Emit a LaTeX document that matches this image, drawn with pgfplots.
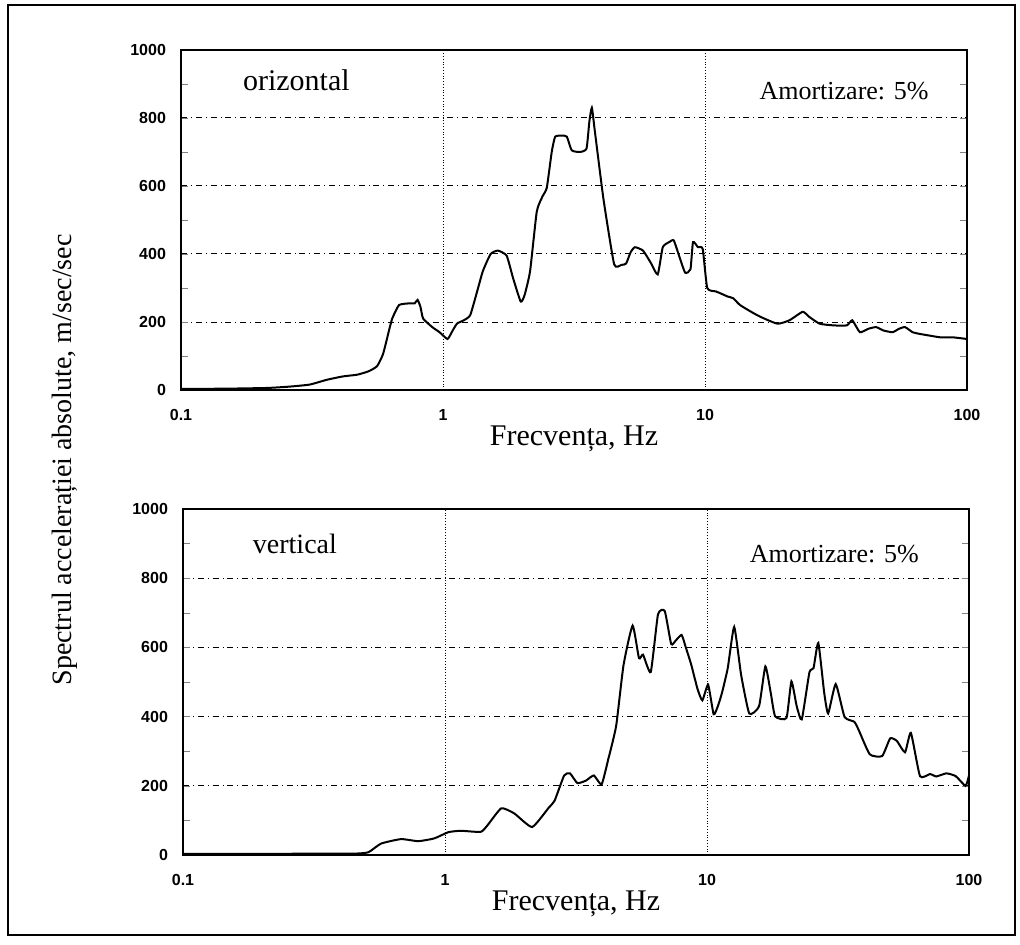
\documentclass[border=0pt]{standalone}
\usepackage{pgfplots}
\pgfplotsset{compat=1.18}
\usepackage{fontspec}
\setmainfont{Liberation Serif}
\newfontfamily\tickfont{Liberation Sans}
\pgfplotstableread{
f y
0.1 3
0.15 4
0.213 6
0.26 10
0.31 16
0.36 30
0.415 40
0.47 45
0.52 55
0.56 70
0.59 105
0.62 170
0.64 210
0.68 250
0.75 255
0.78 255
0.80 265
0.82 245
0.84 210
0.91 185
0.97 170
1.04 150
1.08 170
1.13 195
1.20 205
1.27 220
1.35 290
1.42 350
1.52 400
1.62 410
1.75 395
1.85 330
1.98 260
2.05 280
2.15 350
2.28 525
2.4 570
2.49 595
2.6 700
2.68 745
2.85 748
2.97 745
3.1 705
3.33 700
3.53 710
3.62 790
3.7 830
3.8 760
4.1 560
4.5 370
4.8 368
5.0 372
5.2 405
5.4 420
5.8 410
6.2 375
6.6 340
6.9 420
7.3 435
7.6 440
8.0 390
8.4 345
8.8 355
9.0 435
9.4 420
9.8 415
10.2 300
11.0 290
11.4 285
12.2 275
12.8 270
13.6 250
15.0 230
16.3 215
18.9 195
21 205
23.6 230
25 215
27.4 195
31 190
34.8 190
36.5 205
39 170
42 180
45 185
48 175
52 170
55 180
58 185
62 170
66 165
72 160
79 155
88 155
100 150
}\taborizontal
\pgfplotstableread{
f y
0.1 3
0.2 3
0.3 4
0.45 4
0.51 8
0.57 33
0.68 46
0.79 40
0.91 48
1.03 66
1.15 70
1.37 67
1.46 88
1.64 135
1.84 120
2.15 81
2.49 137
2.62 157
2.85 230
3.0 236
3.2 208
3.45 215
3.7 230
3.96 204
4.2 277
4.5 373
4.8 548
5.2 663
5.5 569
5.7 579
6.1 529
6.5 695
6.9 705
7.3 610
7.6 620
8.0 636
8.3 600
8.7 551
9.2 480
9.6 447
10.1 492
10.6 407
11.0 430
11.4 468
12.0 540
12.7 659
13.5 520
14.5 409
15.8 430
16.7 545
17.5 470
18.2 401
20.1 396
21.0 502
22.0 430
23 392
24.6 528
25.5 540
26.6 613
28 470
29 409
31 494
33.5 399
36.5 385
38 360
41.8 291
46.6 286
50 337
53 330
57 297
60 353
65 228
71 234
75 227
82 236
89 228
97 200
100 230
}\tabvertical
\pgfplotsset{
  spectrum/.style={
    scale only axis, width=393pt,
    xmin=0.1, xmax=100, ymin=0, ymax=1000,
    axis line style={line width=0.8pt},
    xtick={0.1,1,10,100}, xticklabels={0.1,1,10,100},
    ytick={0,200,400,600,800,1000}, yticklabels={0,200,400,600,800,1000},
    minor ytick={100,300,500,700,900},
    tick align=inside, major tick length=3.5pt, minor tick length=3.5pt,
    xtick style={draw=none},
    ytick pos=both,
    xmajorgrids, ymajorgrids,
    x grid style={black, densely dotted, line width=0.4pt},
    y grid style={black, dash dot, line width=0.5pt},
    /pgf/number format/assume math mode=true,
    tick label style={font=\tickfont\bfseries\fontsize{8}{8}\selectfont},
    yticklabel style={xshift=-4pt},
    xticklabel style={yshift=-6pt},
    xlabel={Frecvența, Hz},
    xlabel style={font=\fontsize{15}{15}\selectfont, yshift=4pt},
    clip=false,
  }
}
\begin{document}
\begin{tikzpicture}
\path (0pt,0pt) rectangle (510pt,472pt);
\draw[line width=0.9pt] (4pt,4.5pt) rectangle (507.5pt,469.5pt);
\node[rotate=90, font=\fontsize{14}{14}\selectfont] at (32.5pt,242pt) {Spectrul accelerației absolute, m/sec/sec};
\begin{semilogxaxis}[spectrum, height=170pt, at={(90.5pt,277pt)}, anchor=south west, xminorticks=false]
\addplot[black, line width=1pt, smooth, tension=0.3] table[x=f,y=y] {\taborizontal};
\node[anchor=west, font=\fontsize{15}{15}\selectfont] at (rel axis cs:0.07,0.91) {orizontal};
\node[anchor=east, font=\fontsize{13}{13}\selectfont] at (rel axis cs:0.96,0.88) {Amortizare: 5\%};
\end{semilogxaxis}
\begin{semilogxaxis}[spectrum, height=173pt, at={(91.5pt,44.5pt)}, anchor=south west, xminorticks=false]
\addplot[black, line width=1pt, smooth, tension=0.3] table[x=f,y=y] {\tabvertical};
\node[anchor=west, font=\fontsize{14}{14}\selectfont] at (rel axis cs:0.08,0.90) {vertical};
\node[anchor=east, font=\fontsize{13}{13}\selectfont] at (rel axis cs:0.945,0.87) {Amortizare: 5\%};
\end{semilogxaxis}
\end{tikzpicture}
\end{document}
